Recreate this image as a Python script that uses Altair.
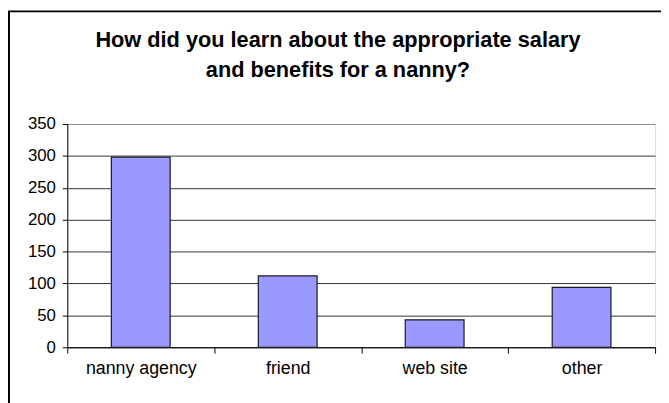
import altair as alt
import pandas as pd

categories = ["nanny agency", "friend", "web site", "other"]
counts = [298, 112, 43, 94]
y_ticks = [0, 50, 100, 150, 200, 250, 300, 350]
title_lines = ["How did you learn about the appropriate salary", "and benefits for a nanny?"]

df = pd.DataFrame({"source": categories, "count": counts})

FONT = "Liberation Sans"

bars = alt.Chart(df).mark_bar(
    width=alt.RelativeBandSize(0.4), color="#9999FF", stroke="#1a1a1a", strokeWidth=1.2
).encode(
    x=alt.X(
        "source:N", sort=categories,
        scale=alt.Scale(paddingInner=0, paddingOuter=0),
        axis=alt.Axis(
            title=None, labelAngle=0, tickBand="extent", tickSize=6,
            labelFontSize=18, labelPadding=7, labelFont=FONT, labelColor="black",
            domainColor="black", tickColor="black", grid=False,
        ),
    ),
    y=alt.Y(
        "count:Q",
        scale=alt.Scale(domain=[0, 350], nice=False, zero=True),
        axis=alt.Axis(
            title=None, values=y_ticks, tickSize=5, labelPadding=7,
            labelFontSize=17, labelFont=FONT, labelColor="black",
            domainColor="black", tickColor="black", grid=True,
            gridColor=alt.condition("datum.value >= 350", alt.value("#8a8a8a"), alt.value("#333333")),
        ),
    ),
)

deco = alt.Chart(pd.DataFrame({"f": [0]}))

frame = deco.mark_rect(
    filled=False, stroke="black", strokeWidth=2, clip=False
).encode(
    x=alt.value(-59), x2=alt.value(720), y=alt.value(-114), y2=alt.value(420)
)

title = deco.mark_text(
    text=title_lines, font=FONT, fontSize=22, fontWeight="bold", color="black",
    align="center", baseline="alphabetic", lineHeight=30,
).encode(x=alt.value(274), y=alt.value(-78))

chart = alt.layer(frame, title, bars).properties(
    width=595,
    height=226,
    autosize=alt.AutoSizeParams(type="none"),
    padding={"left": 60, "top": 115, "right": 6, "bottom": 54},
).configure_view(fill="#EEEEEE", stroke="#8a8a8a", strokeWidth=1).configure(background="white")

chart.save("out.html", embed_options={"renderer": "svg", "actions": False})
